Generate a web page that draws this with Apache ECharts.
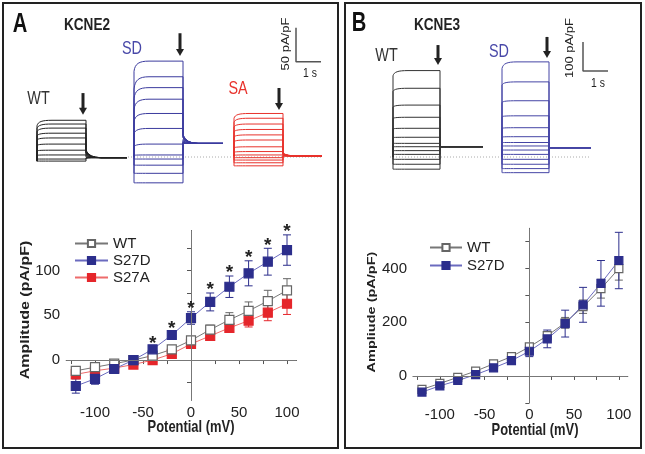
<!DOCTYPE html>
<html><head><meta charset="utf-8">
<script src="https://cdn.jsdelivr.net/npm/echarts@6/dist/echarts.min.js"></script>
<style>html,body{margin:0;padding:0;background:#fff}#c{width:645px;height:454px}</style>
</head><body><div id="c"></div>
<script>
// ---------- data ----------
const ivPotential = [-120,-100,-80,-60,-40,-20,0,20,40,60,80,100];
const xTickValues = [-125,-100,-75,-50,-25,0,25,50,75,100];
const xTickLabels = [-100,-50,0,50,100];
const aYTicks = [-25,0,25,50,75,100,125];
const aYLabels = [0,50,100];
const bYTicks = [-100,0,100,200,300,400,500];
const bYLabels = [0,200,400];

// KCNE2 (panel A)
const kcne2WT      = [-12,-8,-4,0,5,12,22,34,45,55,66,78];
const kcne2WTErr   = [3,3,2,2,3,3,4,5,8,10,12,13];
const kcne2S27D    = [-29,-21,-10,0,12,28,47,65,82,97,110,123];
const kcne2S27DErr = [8,6,4,2,3,4,7,10,12,14,15,17];
const kcne2S27A    = [-16,-12,-9,-5,0,7,18,27,36,44,53,63];
const kcne2S27AErr = [4,4,3,2,2,3,3,4,5,7,9,12];
const starPotentials = [-40,-20,0,20,40,60,80,100];

// KCNE3 (panel B)
const kcne3WT      = [-50,-28,-5,18,45,72,108,150,198,258,325,400];
const kcne3WTErr   = [8,8,6,6,8,10,10,15,20,25,35,43];
const kcne3S27D    = [-60,-37,-17,5,30,57,92,138,195,265,345,430];
const kcne3S27DErr = [10,10,8,8,10,12,20,33,50,65,85,105];

// current traces (pA/pF): late (end of step), early (start of step), tail peak
const aWTLate  = [54,48.5,42.5,35,28,19,10,3,-3,-6];
const aWTEarly = [46,42,37,31,25,17,9,2.5,-3,-6];
const aWTTail  = [10,9,8,7,6,4,2,0,-1,-2];
const aWTHold = -6, aWTTailEnd = -1;

const aSDLate  = [141,118,102,85,64,42,19,3,-3,-12,-24,-38];
const aSDEarly = [126,100,86,70,52,34,15,2.5,-3,-12,-24,-38];
const aSDTail  = [33,32,31,30,29,28,26,24,22,21,20,20];
const aSDHold = 0, aSDTailEnd = 20;

const aSALate  = [64,57,48.5,40.5,32.5,25,15,8,3,-1,-4.5,-8.5,-13];
const aSAEarly = [57,51,44,37,29.5,22.5,13.5,7,2.5,-1,-4.5,-8.5,-13];
const aSATail  = [6,5.5,5,4.5,4,3.5,3,2.5,2,2,2,2,2];
const aSAHold = 1.5, aSATailEnd = 1.5;

const bWTLate  = [298,237,179,137,99,68,47,35.5,22,9,-8,-25,-42];
const bWTEarly = [280,226,172,133,97,67,47,35.5,22,9,-8,-25,-42];
const bWTHold = 0, bWTTailEnd = 35.5;

const bSDLate  = [328,259,194,142,101,70,50,38,24,9,-8,-25,-40,-54];
const bSDEarly = [305,248,188,139,99,69,50,38,24,9,-8,-25,-40,-54];
const bSDHold = 0, bSDTailEnd = 32;

// ---------- helpers ----------
const SANS = "'Liberation Sans',Arial,sans-serif";

function traceData(hold, early, late, tail, tailEnd){
  return late.map((v,i)=>[hold, early[i], v, tail ? tail[i] : tailEnd, tailEnd]);
}
function traceRender(cfg){
  return function(params, api){
    const hold=api.value(0), early=api.value(1), late=api.value(2), tp=api.value(3), te=api.value(4);
    const t0=cfg.t0, t1=cfg.t0+cfg.dur, t2=t1+cfg.tail;
    const P=(t,v)=>api.coord([t,v]);
    const a=P(t0,hold), b=P(t0,early), c1=P(t0+0.04,early+(late-early)*0.75), c2=P(t0+0.2,late), d=P(t0+0.6,late);
    const e=P(t1,late), f=P(t1,tp), q=P(t1+0.12,te), g=P(t1+0.6,te), h=P(t2,te);
    const s=p=>p[0].toFixed(2)+' '+p[1].toFixed(2);
    const path='M'+s(a)+' L'+s(b)+' C'+s(c1)+' '+s(c2)+' '+s(d)+' L'+s(e)+' L'+s(f)+' Q'+s(q)+' '+s(g)+' L'+s(h);
    return {type:'path', shape:{pathData:path}, style:{fill:null, stroke:cfg.color, lineWidth:cfg.width||1}};
  };
}
function traceSeries(grid, data, cfg){
  return {type:'custom', xAxisIndex:grid, yAxisIndex:grid, data:data, renderItem:traceRender(cfg), clip:false, silent:true, z:2};
}
function arrowSeries(grid, data){
  return {type:'custom', xAxisIndex:grid, yAxisIndex:grid, data:data, clip:false, silent:true, z:5,
    renderItem:function(p, api){
      const top=api.coord([api.value(0),api.value(1)]), bot=api.coord([api.value(0),api.value(2)]);
      return {type:'group', children:[
        {type:'line', shape:{x1:top[0],y1:top[1],x2:bot[0],y2:bot[1]-6}, style:{stroke:'#222',lineWidth:3}},
        {type:'polygon', shape:{points:[[bot[0]-4,bot[1]-7],[bot[0]+4,bot[1]-7],[bot[0],bot[1]]]}, style:{fill:'#222'}}
      ]};
    }};
}
function errSeries(gi, xs, ys, errs, color){
  return {type:'custom', xAxisIndex:gi, yAxisIndex:gi, silent:true, clip:false, z:2,
    data: xs.map((x,i)=>[x, ys[i]-errs[i], ys[i]+errs[i]]),
    renderItem:function(p, api){
      const lo=api.coord([api.value(0),api.value(1)]), hi=api.coord([api.value(0),api.value(2)]);
      const w=4;
      return {type:'group', children:[
        {type:'line', shape:{x1:lo[0],y1:lo[1],x2:hi[0],y2:hi[1]}, style:{stroke:color,lineWidth:1}},
        {type:'line', shape:{x1:lo[0]-w,y1:lo[1],x2:lo[0]+w,y2:lo[1]}, style:{stroke:color,lineWidth:1}},
        {type:'line', shape:{x1:hi[0]-w,y1:hi[1],x2:hi[0]+w,y2:hi[1]}, style:{stroke:color,lineWidth:1}}
      ]};
    }};
}
function meanSeries(name, gi, ys, fill, border, lineColor, size){
  return {type:'line', name:name, xAxisIndex:gi, yAxisIndex:gi, data: ivPotential.map((x,i)=>[x,ys[i]]),
    symbol:'rect', symbolSize:size, showSymbol:true, silent:true, z:3,
    itemStyle:{color:fill, borderColor:border, borderWidth:1.2, opacity:1},
    lineStyle:{color:lineColor, width:1}};
}
function ivAxes(gi, yMin, yMax, yTicks, yLabels){
  const ax = {axisLine:{show:true, lineStyle:{color:'#555', width:1}},
    axisTick:{show:true, inside:false, length:4, lineStyle:{color:'#555'}},
    axisLabel:{fontFamily:SANS, fontSize:15, color:'#222'}, splitLine:{show:false}};
  return [
    {type:'value', gridIndex:gi, min:-130, max:110, axisLine:ax.axisLine,
     axisTick:Object.assign({customValues:xTickValues}, ax.axisTick),
     axisLabel:Object.assign({customValues:xTickLabels, margin:5}, ax.axisLabel), splitLine:ax.splitLine},
    {type:'value', gridIndex:gi, min:yMin, max:yMax, axisLine:ax.axisLine,
     axisTick:Object.assign({customValues:yTicks}, ax.axisTick),
     axisLabel:Object.assign({customValues:yLabels, margin:6}, ax.axisLabel), splitLine:ax.splitLine}
  ];
}
const hidden = (gi,min,max)=>({type:'value', gridIndex:gi, min:min, max:max, show:false, splitLine:{show:false}});

// ---------- layout ----------
const grids = [
  {left:27, top:21, width:310, height:173.4},       // 0 traces A
  {left:383, top:20.7, width:250, height:174},      // 1 traces B
  {left:66.2, top:230.4, width:230.4, height:169.9},// 2 IV A
  {left:413, top:228.3, width:214.8, height:174.5}  // 3 IV B
];
const ivA = ivAxes(2, -45, 145, aYTicks, aYLabels);
const ivB = ivAxes(3, -100, 550, bYTicks, bYLabels);
const xAxes = [hidden(0,-0.4,12), hidden(1,-0.4,9.6), ivA[0], ivB[0]];
const yAxes = [hidden(0,-55,200), hidden(1,-130,470), ivA[1], ivB[1]];

const zeroLines = gi => ({type:'line', xAxisIndex:gi, yAxisIndex:gi, data:[], silent:true,
  markLine:{silent:true, symbol:'none', label:{show:false}, lineStyle:{color:'#777', width:1, type:'solid'},
    data:[{xAxis:0},{yAxis:0}], animation:false}});

const series = [
  // traces A
  traceSeries(0, traceData(aWTHold,aWTEarly,aWTLate,aWTTail,aWTTailEnd), {t0:0, dur:1.96, tail:1.64, color:'#222'}),
  traceSeries(0, traceData(aSDHold,aSDEarly,aSDLate,aSDTail,aSDTailEnd), {t0:3.88, dur:1.96, tail:1.6, color:'#3b3b9e'}),
  traceSeries(0, traceData(aSAHold,aSAEarly,aSALate,aSATail,aSATailEnd), {t0:7.88, dur:1.96, tail:1.56, color:'#e8322c'}),
  {type:'line', xAxisIndex:0, yAxisIndex:0, data:[[3.64,0],[11.4,0]], symbol:'none', silent:true, z:1,
   lineStyle:{color:'#aaa', width:1, type:[1,2]}},
  arrowSeries(0, [[1.84,94,62],[5.72,182,148.5],[9.68,101.5,69]]),
  {type:'line', xAxisIndex:0, yAxisIndex:0, data:[[10.36,190],[10.36,140],[11.36,140]], symbol:'none', silent:true,
   lineStyle:{color:'#555', width:1.5}},
  // traces B
  traceSeries(1, traceData(bWTHold,bWTEarly,bWTLate,null,bWTTailEnd), {t0:0, dur:1.88, tail:1.72, color:'#333'}),
  traceSeries(1, traceData(bSDHold,bSDEarly,bSDLate,null,bSDTailEnd), {t0:4.36, dur:1.88, tail:1.68, color:'#4545a5'}),
  {type:'line', xAxisIndex:1, yAxisIndex:1, data:[[-0.12,0],[7.92,0]], symbol:'none', silent:true, z:1,
   lineStyle:{color:'#aaa', width:1, type:[1,2]}},
  arrowSeries(1, [[1.8,386,317],[6.16,414,341]]),
  {type:'line', xAxisIndex:1, yAxisIndex:1, data:[[7.6,396.6],[7.6,296.6],[8.6,296.6]], symbol:'none', silent:true,
   lineStyle:{color:'#555', width:1.5}},
  // IV A
  zeroLines(2),
  errSeries(2, ivPotential, kcne2S27A, kcne2S27AErr, '#e5262b'),
  errSeries(2, ivPotential, kcne2WT, kcne2WTErr, '#666'),
  errSeries(2, ivPotential, kcne2S27D, kcne2S27DErr, '#2c2e8c'),
  meanSeries('S27A', 2, kcne2S27A, '#e5262b', '#e5262b', '#ee6b6b', 9),
  meanSeries('WT', 2, kcne2WT, '#fff', '#666', '#777', 9),
  meanSeries('S27D', 2, kcne2S27D, '#2c2e8c', '#2c2e8c', '#6b6bbf', 9),
  {type:'custom', xAxisIndex:2, yAxisIndex:2, silent:true, clip:false, z:6,
   data: starPotentials.map(x=>{const i=ivPotential.indexOf(x); return [x, kcne2S27D[i]+kcne2S27DErr[i]];}),
   renderItem:function(p, api){
     const c=api.coord([api.value(0),api.value(1)]);
     return {type:'text', x:c[0], y:c[1]-3, style:{text:'*', font:'bold 19px '+SANS, fill:'#222', align:'center', verticalAlign:'middle'}};
   }},
  // IV B
  zeroLines(3),
  errSeries(3, ivPotential, kcne3WT, kcne3WTErr, '#666'),
  errSeries(3, ivPotential, kcne3S27D, kcne3S27DErr, '#2c2e8c'),
  meanSeries('WT_B', 3, kcne3WT, '#fff', '#666', '#777', 8),
  meanSeries('S27D_B', 3, kcne3S27D, '#2c2e8c', '#2c2e8c', '#6b6bbf', 8)
];

// horizontal text, squeezed horizontally like the reference
const txt = (text, x, y, font, fill, sx) => ({type:'text', x:x, y:y, scaleX:(sx||0.8), silent:true,
  style:{text:text, fill:fill||'#222', align:'center', verticalAlign:'middle', font:font}});
// vertical text reading bottom-to-top (glyph height squeezed)
const rtxt = (text, x, y, font) => ({type:'text', x:x, y:y, rotation:Math.PI/2, scaleY:0.8, silent:true,
  style:{text:text, fill:'#222', align:'center', verticalAlign:'middle', font:font}});

const graphic = [
  {type:'rect', shape:{x:3,y:3,width:335,height:445}, style:{fill:'none', stroke:'#222', lineWidth:2}, silent:true},
  {type:'rect', shape:{x:345,y:3,width:296,height:445}, style:{fill:'none', stroke:'#222', lineWidth:2}, silent:true},
  txt('A', 20, 24, 'bold 28px '+SANS, '#111', 0.72),
  txt('KCNE2', 87, 25, 'bold 17px '+SANS),
  txt('B', 359, 23, 'bold 28px '+SANS, '#111', 0.72),
  txt('KCNE3', 437, 25, 'bold 17px '+SANS),
  txt('WT', 38.5, 99, '18px '+SANS, '#333'),
  txt('SD', 132, 49, '18px '+SANS, '#4848a8'),
  txt('SA', 238, 89, '18px '+SANS, '#e8322c'),
  txt('WT', 386.5, 56, '18px '+SANS, '#333'),
  txt('SD', 499, 52, '18px '+SANS, '#4848a8'),
  rtxt('50 pA/pF', 286, 44, '13px '+SANS),
  txt('1 s', 310, 73, '13px '+SANS),
  rtxt('100 pA/pF', 570, 48, '13px '+SANS),
  txt('1 s', 598, 83, '13px '+SANS),
  rtxt('Amplitude (pA/pF)', 25, 310, 'bold 16px '+SANS),
  txt('Potential (mV)', 191, 427, 'bold 17px '+SANS, '#222', 0.76),
  rtxt('Ampliude (pA/pF)', 372, 312, 'bold 14.5px '+SANS),
  txt('Potential (mV)', 535, 430, 'bold 17px '+SANS, '#222', 0.76)
];

const option = {
  animation:false, backgroundColor:'#fff',
  grid:grids, xAxis:xAxes, yAxis:yAxes, series:series, graphic:graphic,
  legend:[
    {data:['WT','S27D','S27A'], orient:'vertical', left:69, top:230, itemWidth:33, itemHeight:9, itemGap:0,
     selectedMode:false, textStyle:{fontFamily:SANS, fontSize:15, color:'#222', lineHeight:17}},
    {data:['WT_B','S27D_B'], orient:'vertical', left:424, top:234, itemWidth:32, itemHeight:9, itemGap:1,
     selectedMode:false, formatter:n=>n.replace('_B',''), textStyle:{fontFamily:SANS, fontSize:15, color:'#222', lineHeight:17}}
  ]
};
const chart = echarts.init(document.getElementById('c'));
chart.setOption(option);
</script></body></html>
